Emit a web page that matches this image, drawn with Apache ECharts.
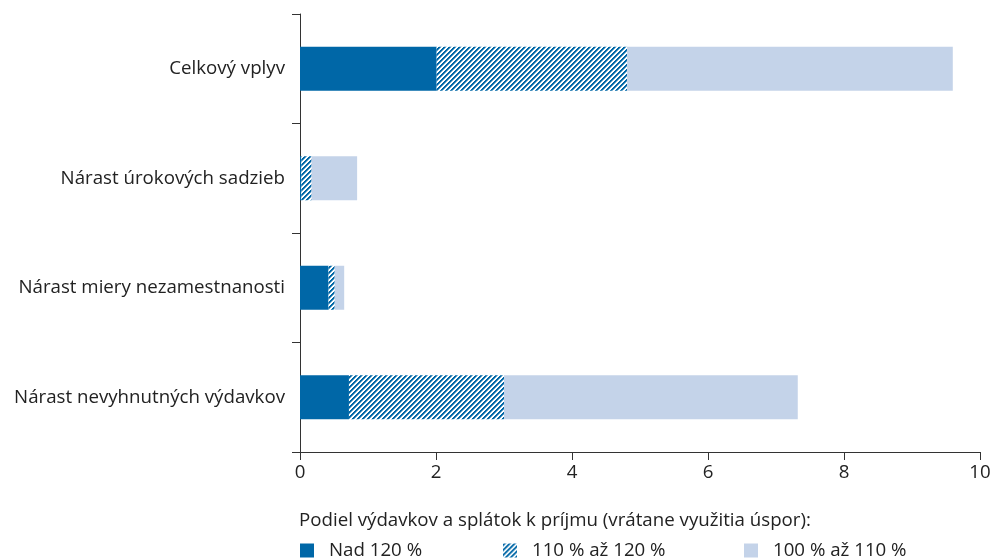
<!DOCTYPE html>
<html>
<head>
<meta charset="utf-8">
<script src="https://cdn.jsdelivr.net/npm/echarts@6/dist/echarts.min.js"></script>
<style>
  html, body { margin: 0; padding: 0; background: #fff; }
  #chart { width: 992px; height: 559px; }
</style>
</head>
<body>
<div id="chart"></div>
<script>
// kategórie (zhora nadol)
const categories = [
  "Celkový vplyv",
  "Nárast úrokových sadzieb",
  "Nárast miery nezamestnanosti",
  "Nárast nevyhnutných výdavkov"
];
const seriesNames = ["Nad 120 %", "110 % až 120 %", "100 % až 110 %"];
const over120 = [2.01, 0.02, 0.42, 0.72];
const from110to120 = [2.80, 0.15, 0.09, 2.28];
const from100to110 = [4.79, 0.67, 0.14, 4.32];
const legendTitle = "Podiel výdavkov a splátok k príjmu (vrátane využitia úspor):";

const DARK = "#0067a7";
const LIGHT = "#c4d3e9";
const FONT = "Open Sans";
const FS = 18.7;

// šrafovanie "/" ako vzor z canvasu
const makeHatch = () => {
  const size = 5;
  const c = document.createElement("canvas");
  c.width = size;
  c.height = size;
  const ctx = c.getContext("2d");
  const img = ctx.createImageData(size, size);
  for (let y = 0; y < size; y++) {
    for (let x = 0; x < size; x++) {
      const k = (x + y) % size;
      const i = (y * size + x) * 4;
      const t = k < 2 ? 1 : (k === 2 ? 0.6 : 0);
      img.data[i] = Math.round(255 - t * 255);
      img.data[i + 1] = Math.round(255 - t * (255 - 103));
      img.data[i + 2] = Math.round(255 - t * (255 - 167));
      img.data[i + 3] = 255;
    }
  }
  ctx.putImageData(img, 0, 0);
  return c;
};
const hatch = { image: makeHatch(), repeat: "repeat" };

const chart = echarts.init(document.getElementById("chart"), null, { renderer: "canvas" });

const legendBase = {
  orient: "horizontal",
  top: 541,
  icon: "rect",
  itemWidth: 14,
  itemHeight: 14,
  itemGap: 0,
  padding: 0,
  selectedMode: false,
  textStyle: { fontFamily: FONT, fontSize: FS, color: "#222", padding: [0, 0, 0, 10] }
};

chart.setOption({
  animation: false,
  textStyle: { fontFamily: FONT },
  title: {
    text: legendTitle,
    left: 299,
    top: 511,
    padding: 0,
    textStyle: { fontFamily: FONT, fontSize: FS, fontWeight: "normal", color: "#222" }
  },
  legend: [
    Object.assign({}, legendBase, { left: 300, data: [seriesNames[0]] }),
    Object.assign({}, legendBase, { left: 503, data: [seriesNames[1]] }),
    Object.assign({}, legendBase, { left: 744, data: [seriesNames[2]] })
  ],
  grid: {
    left: 300,
    right: 12,
    top: 14,
    bottom: 107,
    outerBoundsMode: "none"
  },
  xAxis: {
    type: "value",
    min: 0,
    max: 10,
    interval: 2,
    splitLine: { show: false },
    axisLine: { show: true, lineStyle: { color: "#333", width: 1 } },
    axisTick: { show: true, length: 8, lineStyle: { color: "#333" } },
    axisLabel: { color: "#222", fontSize: FS, fontFamily: FONT, margin: 11 }
  },
  yAxis: {
    type: "category",
    inverse: true,
    data: categories,
    axisLine: { show: true, lineStyle: { color: "#333", width: 1 } },
    axisTick: { show: true, length: 8, lineStyle: { color: "#333" } },
    axisLabel: { color: "#222", fontSize: FS, fontFamily: FONT, margin: 15 }
  },
  series: [
    {
      name: seriesNames[0],
      type: "bar",
      stack: "spolu",
      barWidth: 44,
      data: over120,
      itemStyle: { color: DARK }
    },
    {
      name: seriesNames[1],
      type: "bar",
      stack: "spolu",
      barWidth: 44,
      data: from110to120,
      itemStyle: { color: hatch }
    },
    {
      name: seriesNames[2],
      type: "bar",
      stack: "spolu",
      barWidth: 44,
      data: from100to110,
      itemStyle: { color: LIGHT }
    }
  ]
});
</script>
</body>
</html>
